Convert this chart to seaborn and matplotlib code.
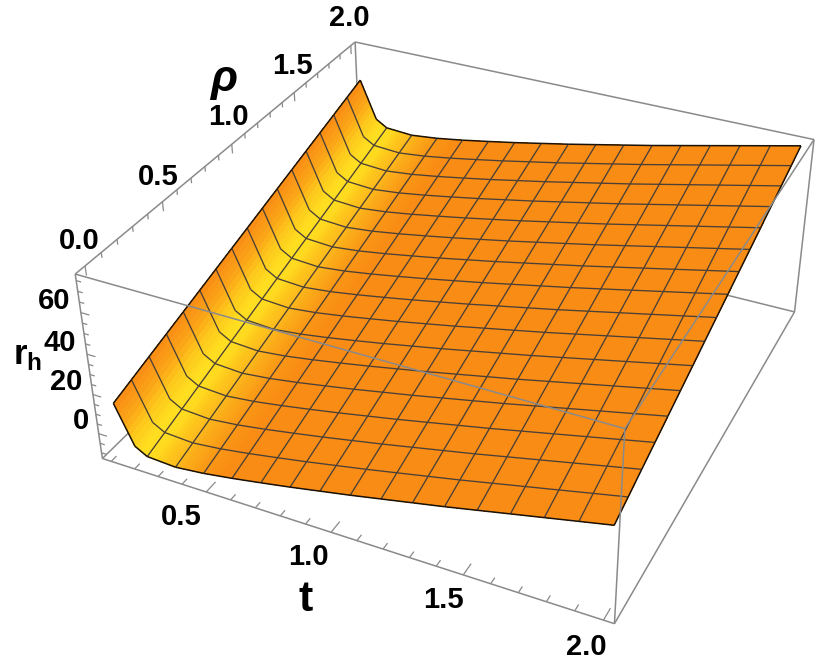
import numpy as np
import matplotlib
matplotlib.use("Agg")
import matplotlib.pyplot as plt
import seaborn as sns
from mpl_toolkits.mplot3d.art3d import Line3DCollection

# ---- data ----
t_nodes = [0.10, 0.17, 0.21875, 0.3375, 0.45625, 0.575, 0.69375, 0.8125, 0.93125, 1.05,
           1.16875, 1.2875, 1.40625, 1.525, 1.64375, 1.7625, 1.88125, 2.0]
rh_along_t = [12.5, -7.0, -10.5, -11.4, -9.9, -7.7, -5.2, -2.6, 0.2, 3, 6, 9, 12,
              15.2, 18.4, 21.6, 24.8, 28]
rho_nodes = [0, 0.125, 0.25, 0.375, 0.5, 0.625, 0.75, 0.875, 1.0, 1.125, 1.25,
             1.375, 1.5, 1.625, 1.75, 1.875, 2.0]
rh_rise_rho = [0, 3, 6, 9, 12, 15, 18, 21, 24, 27, 30, 33, 36, 39, 42, 45, 48]
t_ticks = [0.5, 1.0, 1.5, 2.0]
rho_ticks = [0.0, 0.5, 1.0, 1.5, 2.0]
rh_ticks = [0, 20, 40, 60]
t_range = (0.062, 2.038)
rho_range = (-0.06, 2.04)
rh_range = (-13.0, 78.0)
glow_t = [0.10, 0.13, 0.16, 0.20, 0.25, 0.30, 0.38, 0.46, 0.55, 2.0]
glow_level = [0.0, 0.30, 0.80, 1.0, 0.95, 0.70, 0.38, 0.12, 0.0, 0.0]

W, H = 830, 667
sns.set_theme(style="white")
plt.rcParams["font.family"] = ["Liberation Sans", "DejaVu Sans"]
plt.rcParams["mathtext.fontset"] = "custom"
plt.rcParams["mathtext.bf"] = "Liberation Sans:bold"
plt.rcParams["mathtext.rm"] = "Liberation Sans:bold"

fig = plt.figure(figsize=(W / 100, H / 100), dpi=100, facecolor="white")
ax = fig.add_axes([0, (H - W) / 2 / H, 1, W / H], projection="3d", computed_zorder=False)
ax.set_axis_off()

t0, t1 = t_range
r0, r1 = rho_range
z0, z1 = rh_range

# Camera: matched to the box corners and axis ticks of the reference
cam_data = np.array([
    [t0, r0, z1], [t0, r0, z0], [t0, r1, z1], [t1, r1, z1], [t1, r0, z1], [t1, r0, z0], [t1, r1, z0],
    [0.5, r0, z0], [1.0, r0, z0], [1.5, r0, z0], [2.0, r0, z0],
    [t0, 0.5, z1], [t0, 1.0, z1], [t0, 1.5, z1], [t0, 2.0, z1],
    [t0, r0, 60], [t0, r0, 0]], float)
cam_px = np.array([
    [76, 274], [102, 458], [356, 42], [814, 139], [625, 428], [613, 624], [794, 312],
    [207, 492], [332, 534], [463, 575], [605, 620],
    [161, 203], [231, 145], [293, 93], [352, 45],
    [81.4, 312], [98, 432]], float)


def solve_camera():
    ax.apply_aspect()
    disp = np.c_[cam_px[:, 0], H - cam_px[:, 1]]
    uv = ax.transData.inverted().transform(disp)
    scale = np.diag([1, 1, 1 / 45.0, 1])
    rows = []
    for (x, y, z), (u, v) in zip(cam_data, uv):
        X = scale @ np.array([x, y, z, 1.0])
        rows.append(np.r_[X, np.zeros(4), -u * X])
        rows.append(np.r_[np.zeros(4), X, -v * X])
    P = np.linalg.svd(np.array(rows))[2][-1].reshape(3, 4) @ scale
    if P[2] @ np.array([1, 1, 30, 1.0]) < 0:
        P = -P
    k = 0.5 * (P[2] @ np.array([1, 1, 30, 1.0]))
    return np.vstack([P[0], P[1], P[2] - k * np.array([0, 0, 0, 1.0]), P[2]])


ax.get_proj = solve_camera


def draw_lines(lines, **kw):
    segs = []
    for xs, ys, zs in lines:
        pts = np.c_[xs, ys, zs]
        segs.extend([pts[i], pts[i + 1]] for i in range(len(pts) - 1))
    ax.add_collection3d(Line3DCollection(segs, **kw))


# Surface
t_nodes_a = np.array(t_nodes)
rho_a = np.array(rho_nodes)
Z_nodes = np.add.outer(np.array(rh_along_t), np.array(rh_rise_rho))
sub = 8
t_fine = np.interp(np.arange(0, (len(t_nodes) - 1) * sub + 1) / sub,
                   np.arange(len(t_nodes)), t_nodes_a)
Z_fine = np.array([np.interp(t_fine, t_nodes_a, Z_nodes[:, j]) for j in range(len(rho_nodes))]).T
T, R = np.meshgrid(t_fine, rho_a, indexing="ij")
ramp = sns.blend_palette(["#F98C14", "#FFDE20"], as_cmap=True)
t_mid = np.r_[0.5 * (t_fine[:-1] + t_fine[1:]), t_fine[-1]]
levels = np.interp(t_mid, glow_t, glow_level)
fc = ramp(np.repeat(levels[:, None], len(rho_nodes), axis=1))
ax.plot_surface(T, R, Z_fine, facecolors=fc, shade=False, rstride=1, cstride=1,
                linewidth=0, antialiased=False, zorder=2)

# Mesh
mesh_lines = []
for j in range(1, len(rho_nodes) - 1):
    mesh_lines.append((t_nodes_a, np.full(len(t_nodes), rho_a[j]), Z_nodes[:, j]))
for i in range(2, len(t_nodes) - 1):
    mesh_lines.append((np.full(len(rho_nodes), t_nodes_a[i]), rho_a, Z_nodes[i]))
draw_lines(mesh_lines, colors="#4a4038", linewidths=0.95, zorder=3)
draw_lines([(t_nodes_a, np.full(len(t_nodes), rho_a[0]), Z_nodes[:, 0]),
            (t_nodes_a, np.full(len(t_nodes), rho_a[-1]), Z_nodes[:, -1]),
            (np.full(len(rho_nodes), t_nodes_a[0]), rho_a, Z_nodes[0]),
            (np.full(len(rho_nodes), t_nodes_a[-1]), rho_a, Z_nodes[-1])],
           colors="#1a1208", linewidths=1.1, zorder=3.5)

# Box
back = [((t0, r0, z0), (t0, r1, z0)), ((t0, r1, z0), (t1, r1, z0)), ((t0, r1, z0), (t0, r1, z1))]
front = [((t0, r0, z1), (t0, r1, z1)), ((t0, r1, z1), (t1, r1, z1)), ((t0, r0, z1), (t0, r0, z0)),
         ((t0, r0, z0), (t1, r0, z0)), ((t1, r0, z0), (t1, r1, z0)), ((t1, r1, z1), (t1, r1, z0)),
         ((t1, r0, z1), (t1, r0, z0)), ((t0, r0, z1), (t1, r0, z1)), ((t1, r0, z1), (t1, r1, z1))]
ax.add_collection3d(Line3DCollection(back, colors="#8a8a8a", linewidths=1.1, zorder=1))
ax.add_collection3d(Line3DCollection(front, colors="#8a8a8a", linewidths=1.1, zorder=4))

# Ticks
ticks = []
for v in np.arange(1, 21):
    tv = v * 0.1
    ln = 0.065 if v % 5 == 0 else 0.035
    ticks.append(((tv, r0, z0), (tv, r0 + ln, z0)))
for v in np.arange(0, 21):
    tv = v * 0.1
    ticks.append(((t0, tv, z1), (t0, tv, z1 - (4.5 if v % 5 == 0 else 2.5))))
for v in np.arange(-10, 78, 5):
    ln = 0.035 if v % 20 == 0 else 0.02
    ticks.append(((t0, r0, v), (t0 + ln, r0, v)))
ax.add_collection3d(Line3DCollection(ticks, colors="#8a8a8a", linewidths=0.9, zorder=4))


def label(x, y, s, size=21, **kw):
    ax.text2D(x / W, 1 - y / H, s, transform=fig.transFigure, ha="center", va="center",
              fontsize=size, fontweight="bold", color="black", **kw)


for v, p in zip(t_ticks, [(181, 517), (308, 557), (443, 600), (586, 647)]):
    label(*p, f"{v:.1f}")
for v, p in zip(rho_ticks, [(79, 241), (158, 177), (228, 117), (292, 66), (349, 18)]):
    label(*p, f"{v:.1f}")
for v, p in zip(rh_ticks, [(81, 421), (66, 382), (60, 343), (54, 301)]):
    label(*p, f"{v}")
label(306, 600, "t", size=31)
label(224, 80, "ρ", size=32, style="italic")
label(28, 355, r"$\mathbf{r}_{\mathbf{h}}$", size=25)

fig.savefig("out.png", dpi=100, facecolor="white")
